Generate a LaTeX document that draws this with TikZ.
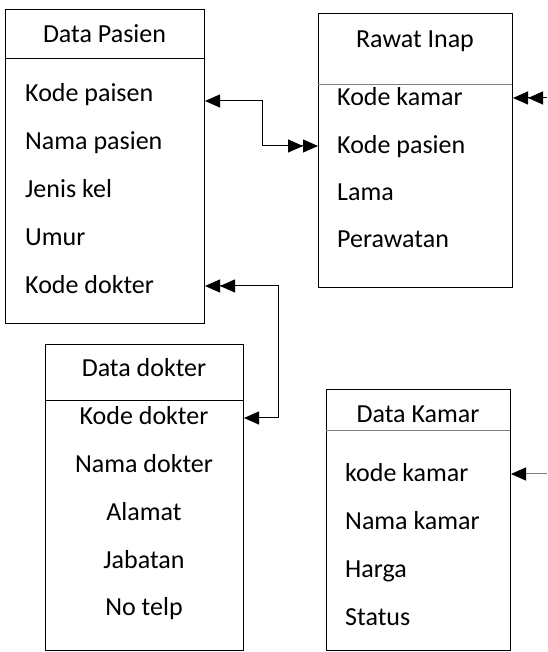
\documentclass[tikz,border=0pt]{standalone}
\usepackage{fontspec}
\setmainfont{Carlito}
\usetikzlibrary{arrows.meta, positioning}

\begin{document}
\begin{tikzpicture}[x=1pt, y=1pt,
  entity/.style={draw, line width=1pt, anchor=north west, inner sep=0pt},
  title/.style={font=\fontsize{26}{31}\selectfont, inner sep=0pt, anchor=base},
  field/.style={font=\fontsize{26}{31}\selectfont, inner sep=0pt, anchor=base west},
  cfield/.style={font=\fontsize{26}{31}\selectfont, inner sep=0pt, anchor=base},
  link/.style={line width=1pt},
  >={Triangle[length=15pt, width=13pt, color=black]},
]
  \useasboundingbox (0,0) rectangle (547,652);

  % Data Pasien
  \node[entity, minimum width=199, minimum height=314] (pasien) at (5,643) {};
  \draw[line width=1pt] (5,593) -- (204,593);
  \node[title] (tpasien) at (104.5,609) {Data Pasien};
  \node[field] (pkode) at (25,550) {Kode paisen};
  \node[field] (pnama) at (25,502) {Nama pasien};
  \node[field] (pjenis) at (25,454) {Jenis kel};
  \node[field] (pumur) at (25,406) {Umur};
  \node[field] (pdokter) at (25,358) {Kode dokter};

  % Rawat Inap
  \node[entity, minimum width=194, minimum height=274] (rawat) at (318,639) {};
  \draw[gray, line width=0.8pt] (318,568) -- (512,568);
  \node[title] (trawat) at (415,604) {Rawat Inap};
  \node[field] (rkamar) at (337,546) {Kode kamar};
  \node[field] (rpasien) at (337,498) {Kode pasien};
  \node[field] (rlama) at (337,451) {Lama};
  \node[field] (rrawat) at (337,404) {Perawatan};

  % Data dokter
  \node[entity, minimum width=198, minimum height=306] (dokter) at (45,308) {};
  \draw[line width=1pt] (45,251) -- (243,251);
  \node[title] (tdokter) at (144,275) {Data dokter};
  \node[cfield] (dkode) at (144,227) {Kode dokter};
  \node[cfield] (dnama) at (144,179) {Nama dokter};
  \node[cfield] (dalamat) at (144,131) {Alamat};
  \node[cfield] (djabatan) at (144,83) {Jabatan};
  \node[cfield] (dtelp) at (144,36) {No telp};

  % Data Kamar
  \node[entity, minimum width=184, minimum height=261] (kamar) at (326,263) {};
  \draw[gray, line width=0.8pt] (326,222) -- (510,222);
  \node[title] (tkamar) at (418,229) {Data Kamar};
  \node[field] (kkode) at (345,170) {kode kamar};
  \node[field] (knama) at (345,122) {Nama kamar};
  \node[field] (kharga) at (345,74) {Harga};
  \node[field] (kstatus) at (345,26) {Status};

  % relasi
  \coordinate (bend1) at (262,551);
  \coordinate (bend2) at (278,366);
  \coordinate (ekamar) at (547,554);
  \coordinate (ekkamar) at (547,178);
  \draw[link, <->>] (pasien.east |- bend1) -- (bend1) |- (rawat.west |- 0,506);
  \draw[link, <<->] (pasien.east |- bend2) -- (bend2) |- (dokter.east |- 0,234);
  \draw[link, ->>] (ekamar) -- (rawat.east |- ekamar);
  \draw[link, gray, ->] (ekkamar) -- (kamar.east |- ekkamar);
\end{tikzpicture}
\end{document}
